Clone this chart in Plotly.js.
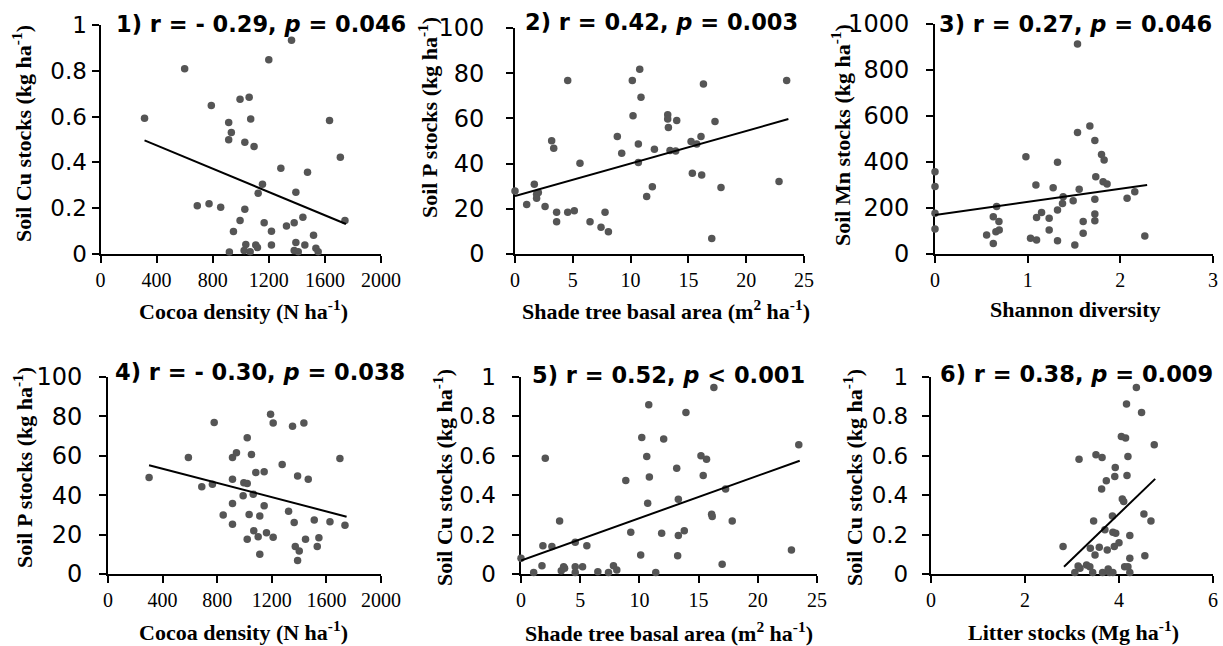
<!DOCTYPE html>
<html>
<head>
<meta charset="utf-8">
<script src="https://cdn.plot.ly/plotly-3.0.1.min.js"></script>
<style>html,body{margin:0;padding:0;background:#fff;}#chart{width:1223px;height:646px;}</style>
</head>
<body>
<div id="chart"></div>
<script>
// ---------- Data ----------
// Panel 1: Cocoa density vs Soil Cu
const p1X = [314,600,790,690,774,857,914,933,914,995,1060,1071,1029,1095,995,948,1029,1036,1107,1119,919,1067,1024,1155,1124,1167,1219,1219,1200,1286,1326,1362,1393,1381,1393,1381,1410,1476,1443,1457,1519,1536,1552,1633,1710,1743];
const p1Y = [0.593,0.809,0.649,0.211,0.219,0.204,0.574,0.531,0.499,0.676,0.685,0.590,0.488,0.469,0.146,0.098,0.195,0.042,0.039,0.028,0.009,0.010,0.015,0.305,0.265,0.137,0.099,0.039,0.848,0.375,0.122,0.933,0.270,0.137,0.050,0.015,0.010,0.357,0.160,0.039,0.082,0.025,0.010,0.583,0.423,0.146];
const p1FitX = [314,1750];
const p1FitY = [0.496,0.131];

// Panel 2: Shade tree basal area vs Soil P
const p2X = [0,1.01,1.67,1.87,2.02,1.87,2.60,3.17,3.35,3.60,3.60,4.56,4.56,5.13,5.62,6.49,7.44,7.79,8.08,8.85,9.23,10.15,10.21,10.67,10.67,10.79,10.90,11.39,11.88,12.06,13.21,13.21,13.27,13.41,13.90,13.99,15.23,15.34,15.72,16.09,16.15,16.30,17.02,17.30,17.82,22.84,23.50];
const p2Y = [27.9,21.9,30.9,26.4,27.2,24.7,21.0,50.1,46.8,18.5,14.3,76.8,18.5,19.1,40.2,14.3,11.8,18.5,9.9,52.0,44.6,76.8,61.2,48.7,40.5,81.8,69.4,25.4,29.8,46.4,61.6,59.7,56.0,45.8,45.6,59.1,49.8,35.7,48.7,52.0,35.0,75.2,6.9,58.6,29.4,32.1,76.8];
const p2FitX = [0,23.65];
const p2FitY = [25.7,59.7];

// Panel 3: Shannon diversity vs Soil Mn
const p3X = [0,0,0,0,0.557,0.629,0.629,0.665,0.69,0.657,0.693,0.981,1.031,1.096,1.089,1.096,1.15,1.232,1.232,1.275,1.322,1.322,1.322,1.383,1.376,1.491,1.509,1.538,1.556,1.538,1.599,1.599,1.671,1.725,1.735,1.725,1.725,1.725,1.797,1.825,1.814,1.857,2.073,2.156,2.264];
const p3Y = [358,293,177,109,83,162,46,206,141,97,104,423,68,61,300,159,180,155,104,288,399,191,58,249,220,232,39,528,281,913,141,90,557,493,336,238,174,145,433,409,314,304,242,271,78];
const p3FitX = [0,2.289];
const p3FitY = [170,300];

// Panel 4: Cocoa density vs Soil P
const p4X = [301,589,687,765,778,844,912,941,912,912,912,1020,990,995,1020,1020,1034,1051,1064,1068,1083,1100,1112,1112,1144,1144,1161,1191,1210,1210,1276,1323,1352,1364,1372,1389,1401,1389,1435,1447,1467,1511,1533,1545,1626,1699,1736];
const p4Y = [49.0,59.1,44.3,45.6,76.9,29.9,59.1,61.5,35.8,25.3,48.1,69.1,39.7,46.3,45.9,17.7,30.2,60.6,40.5,22.0,51.5,18.9,29.4,10.0,51.9,34.6,20.9,81.1,76.7,18.6,55.6,31.9,75.0,26.2,13.9,49.7,11.7,6.8,76.7,17.7,48.1,27.4,13.9,18.4,26.5,58.6,24.8];
const p4FitX = [301,1748];
const p4FitY = [55.2,29.1];

// Panel 5: Shade tree basal area vs Soil Cu
const p5X = [0,1.07,1.77,1.85,2.05,2.61,3.26,3.40,3.6,3.68,4.58,4.58,4.58,5.2,5.56,6.49,7.39,7.81,8.09,8.85,9.27,10.11,10.20,10.62,10.70,10.84,10.79,11.38,11.88,12.05,13.15,13.29,13.29,13.23,13.79,13.93,15.2,15.39,15.67,16.1,16.15,16.29,16.99,17.28,17.84,22.84,23.46];
const p5Y = [0.080,0.008,0.042,0.144,0.588,0.139,0.269,0.017,0.037,0.029,0.161,0.037,0.008,0.037,0.144,0.012,0.008,0.042,0.020,0.475,0.212,0.097,0.693,0.597,0.359,0.492,0.859,0.008,0.207,0.685,0.537,0.380,0.195,0.093,0.219,0.820,0.600,0.500,0.583,0.303,0.292,0.947,0.049,0.431,0.269,0.122,0.656];
const p5FitX = [0,23.54];
const p5FitY = [0.068,0.575];

// Panel 6: Litter stocks vs Soil Cu
const p6X = [2.81,3.06,3.13,3.15,3.17,3.31,3.38,3.39,3.44,3.46,3.49,3.51,3.58,3.63,3.64,3.65,3.70,3.73,3.75,3.77,3.80,3.86,3.87,3.90,3.91,3.92,3.93,4.00,3.87,4.05,4.07,4.10,4.12,4.14,4.16,4.17,4.19,4.19,4.23,4.23,4.23,4.37,4.48,4.53,4.55,4.68,4.75];
const p6Y = [0.139,0.008,0.041,0.583,0.029,0.046,0.037,0.131,0.008,0.269,0.097,0.605,0.136,0.431,0.592,0.008,0.224,0.473,0.122,0.025,0.008,0.295,0.212,0.139,0.495,0.541,0.207,0.159,0.008,0.698,0.381,0.368,0.037,0.690,0.863,0.500,0.597,0.037,0.195,0.080,0.008,0.947,0.820,0.305,0.093,0.269,0.656];
const p6FitX = [2.83,4.77];
const p6FitY = [0.037,0.483];

// Texts
const panelTitles = [
  "1) r = - 0.29, <i>p</i> = 0.046",
  "2) r = 0.42, <i>p</i> = 0.003",
  "3) r = 0.27, <i>p</i> = 0.046",
  "4) r = - 0.30, <i>p</i> = 0.038",
  "5) r = 0.52, <i>p</i> < 0.001",
  "6) r = 0.38, <i>p</i> = 0.009"
];
const xTitles = [
  "Cocoa density (N ha<sup>-1</sup>)",
  "Shade tree basal area (m<sup>2</sup> ha<sup>-1</sup>)",
  "Shannon diversity",
  "Cocoa density (N ha<sup>-1</sup>)",
  "Shade tree basal area (m<sup>2</sup> ha<sup>-1</sup>)",
  "Litter stocks (Mg ha<sup>-1</sup>)"
];
const yTitles = [
  "Soil Cu stocks (kg ha<sup>-1</sup>)",
  "Soil P stocks (kg ha<sup>-1</sup>)",
  "Soil Mn stocks (kg ha<sup>-1</sup>)",
  "Soil P stocks (kg ha<sup>-1</sup>)",
  "Soil Cu stocks (kg ha<sup>-1</sup>)",
  "Soil Cu stocks (kg ha<sup>-1</sup>)"
];
const xRanges = [[0,2000],[0,25],[0,3],[0,2000],[0,25],[0,6]];
const xDtick = [400,5,1,400,5,2];
const yRanges = [[0,1],[0,100],[0,1000],[0,100],[0,1],[0,1]];
const yDtick = [0.2,20,200,20,0.2,0.2];

// ---------- Layout geometry (pixels) ----------
const W = 1223, H = 646;
const px = v => v / W, py = v => 1 - v / H;
const boxes = [
  {l:100.5, r:381, t:25, b:254, yfs:23, ysuf:'',               title:[114,24.5], ytitle:[22,134], xtitle:[243,310]},
  {l:515,   r:804, t:28, b:254, yfs:24, ysuf:'\u2002\u2009',   title:[523,22.5], ytitle:[428,118], xtitle:[666,310]},
  {l:935,   r:1213,t:24, b:254, yfs:24, ysuf:'\u2002',         title:[937,24],   ytitle:[841,135], xtitle:[1075,309]},
  {l:108,   r:381, t:377,b:574, yfs:24, ysuf:'\u2002',         title:[113,371.5],ytitle:[23,468],  xtitle:[243,631]},
  {l:521,   r:817, t:377,b:574, yfs:23, ysuf:'\u2002',         title:[530,374.5],ytitle:[443,478], xtitle:[669,632]},
  {l:931,   r:1213,t:377,b:574, yfs:23, ysuf:'\u2009\u2009',   title:[938,374],  ytitle:[853,478], xtitle:[1073,631]}
];

const allX = [p1X,p2X,p3X,p4X,p5X,p6X];
const allY = [p1Y,p2Y,p3Y,p4Y,p5Y,p6Y];
const fitX = [p1FitX,p2FitX,p3FitX,p4FitX,p5FitX,p6FitX];
const fitY = [p1FitY,p2FitY,p3FitY,p4FitY,p5FitY,p6FitY];

const traces = [];
const layout = {
  width: W, height: H,
  margin: {l:0, r:0, t:0, b:0},
  paper_bgcolor: '#fff', plot_bgcolor: '#fff',
  showlegend: false,
  annotations: []
};

for (let i = 0; i < 6; i++) {
  const n = i + 1;
  const xa = n === 1 ? 'x' : 'x' + n;
  const ya = n === 1 ? 'y' : 'y' + n;
  const b = boxes[i];
  traces.push({
    type: 'scatter', mode: 'markers', x: allX[i], y: allY[i],
    xaxis: xa, yaxis: ya, cliponaxis: false,
    marker: {size: 7.5, color: '#555555'}, hoverinfo: 'skip'
  });
  traces.push({
    type: 'scatter', mode: 'lines', x: fitX[i], y: fitY[i],
    xaxis: xa, yaxis: ya, cliponaxis: false,
    line: {color: '#000', width: 2}, hoverinfo: 'skip'
  });
  const axBase = {
    showgrid: false, zeroline: false, showline: true,
    linecolor: '#000', linewidth: 2, ticks: 'outside',
    ticklen: 7, tickwidth: 2, tickcolor: '#000', layer: 'below traces',
    fixedrange: true
  };
  layout['xaxis' + (n === 1 ? '' : n)] = Object.assign({}, axBase, {
    domain: [px(b.l), px(b.r)], anchor: ya,
    range: xRanges[i], tick0: 0, dtick: xDtick[i],
    tickfont: {family: 'Liberation Serif, Times New Roman, serif', size: 20, color: '#000'}
  });
  layout['yaxis' + (n === 1 ? '' : n)] = Object.assign({}, axBase, {
    domain: [py(b.b), py(b.t)], anchor: xa,
    range: yRanges[i], tick0: 0, dtick: yDtick[i],
    ticksuffix: b.ysuf,
    tickfont: {family: 'DejaVu Sans, Verdana, sans-serif', size: b.yfs, color: '#000'}
  });
  layout.annotations.push({
    xref: 'paper', yref: 'paper', x: px(b.title[0]), y: py(b.title[1]),
    xanchor: 'left', yanchor: 'middle', showarrow: false,
    text: '<b>' + panelTitles[i] + '</b>',
    font: {family: 'DejaVu Sans, Verdana, sans-serif', size: 22.5, color: '#000'}
  });
  layout.annotations.push({
    xref: 'paper', yref: 'paper', x: px(b.xtitle[0]), y: py(b.xtitle[1]),
    xanchor: 'center', yanchor: 'middle', showarrow: false,
    text: '<b>' + xTitles[i] + '</b>',
    font: {family: 'Liberation Serif, Times New Roman, serif', size: 22, color: '#000'}
  });
  layout.annotations.push({
    xref: 'paper', yref: 'paper', x: px(b.ytitle[0]), y: py(b.ytitle[1]),
    xanchor: 'center', yanchor: 'middle', showarrow: false, textangle: -90,
    text: '<b>' + yTitles[i] + '</b>',
    font: {family: 'Liberation Serif, Times New Roman, serif', size: 22, color: '#000'}
  });
}

Plotly.newPlot('chart', traces, layout, {staticPlot: true, displayModeBar: false});
</script>
</body>
</html>
